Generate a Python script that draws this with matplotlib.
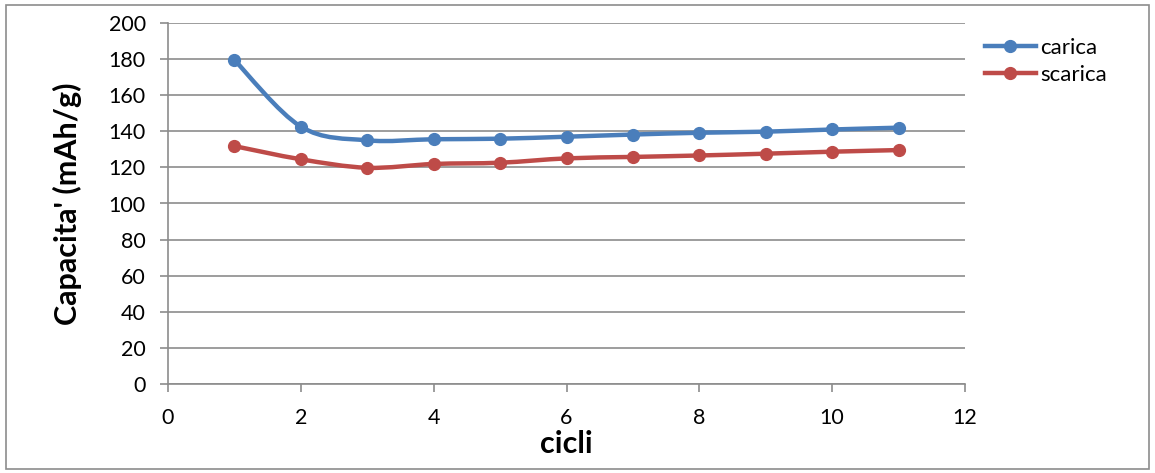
import numpy as np
import matplotlib.pyplot as plt
from matplotlib.path import Path
from matplotlib.patches import PathPatch, Rectangle
from matplotlib.lines import Line2D

plt.rcParams['font.family'] = ['Lato', 'DejaVu Sans']

cicli = [1, 2, 3, 4, 5, 6, 7, 8, 9, 10, 11]
carica = [179.5, 142.6, 135.0, 135.6, 135.9, 137.0, 138.2, 139.2, 139.8, 141.0, 142.0]
scarica = [131.8, 124.5, 119.8, 121.9, 122.6, 125.0, 125.8, 126.6, 127.6, 128.7, 129.6]

BLUE = "#4A7EBB"
RED = "#BE4B48"
GRID = "#8C8C8C"


def smooth_path(x, y):
    # Excel-style smoothed line: cubic Bezier segments through the points
    p = np.column_stack([x, y]).astype(float)
    n = len(p)
    verts = [p[0]]
    codes = [Path.MOVETO]
    for i in range(n - 1):
        p0 = p[i - 1] if i > 0 else p[i]
        p3 = p[i + 2] if i + 2 < n else p[i + 1]
        c1 = p[i] + (p[i + 1] - p0) / 6.0
        c2 = p[i + 1] - (p3 - p[i]) / 6.0
        verts += [c1, c2, p[i + 1]]
        codes += [Path.CURVE4] * 3
    return Path(verts, codes)


fig = plt.figure(figsize=(11.55, 4.73), dpi=100)
fig.patches.append(Rectangle((6 / 1155, 4 / 473), 1143 / 1155, 464 / 473,
                             transform=fig.transFigure, fill=False,
                             edgecolor="#8C8C8C", linewidth=1.2))
ax = fig.add_axes([168 / 1155, 1 - 384 / 473, 797 / 1155, 361 / 473])

for vals, col in [(carica, BLUE), (scarica, RED)]:
    ax.add_patch(PathPatch(smooth_path(cicli, vals), fill=False,
                           edgecolor=col, linewidth=3.2, capstyle="round",
                           zorder=3))
    ax.plot(cicli, vals, linestyle="none", marker="o", markersize=8.5,
            color=col, zorder=4)

ax.set_xlim(0, 12)
ax.set_ylim(0, 200)
ax.set_xticks(range(0, 13, 2))
ax.set_yticks(range(0, 201, 20))
ax.yaxis.grid(True, color=GRID, linewidth=1.2)
ax.set_axisbelow(True)
for s in ["top", "right"]:
    ax.spines[s].set_visible(False)
for s in ["left", "bottom"]:
    ax.spines[s].set_color(GRID)
    ax.spines[s].set_linewidth(1.2)
ax.tick_params(axis="both", colors=GRID, labelcolor="black",
               labelsize=15.5, length=6, width=1.2)
ax.tick_params(axis="y", pad=10)
ax.tick_params(axis="x", pad=11)

ax.set_xlabel("cicli", fontsize=22, fontweight="bold", labelpad=2)
ax.set_ylabel("Capacita' (mAh/g)", fontsize=22, fontweight="bold", labelpad=19)

handles = [Line2D([], [], color=BLUE, linewidth=3.2, marker="o", markersize=8.5),
           Line2D([], [], color=RED, linewidth=3.2, marker="o", markersize=8.5)]
fig.legend(handles, ["carica", "scarica"], loc="upper left",
           bbox_to_anchor=(976 / 1155, 1 - 29 / 473), frameon=False,
           fontsize=16, handlelength=2.3, handletextpad=0.2,
           labelspacing=0.3, borderaxespad=0)

fig.savefig("out.png", dpi=100)
